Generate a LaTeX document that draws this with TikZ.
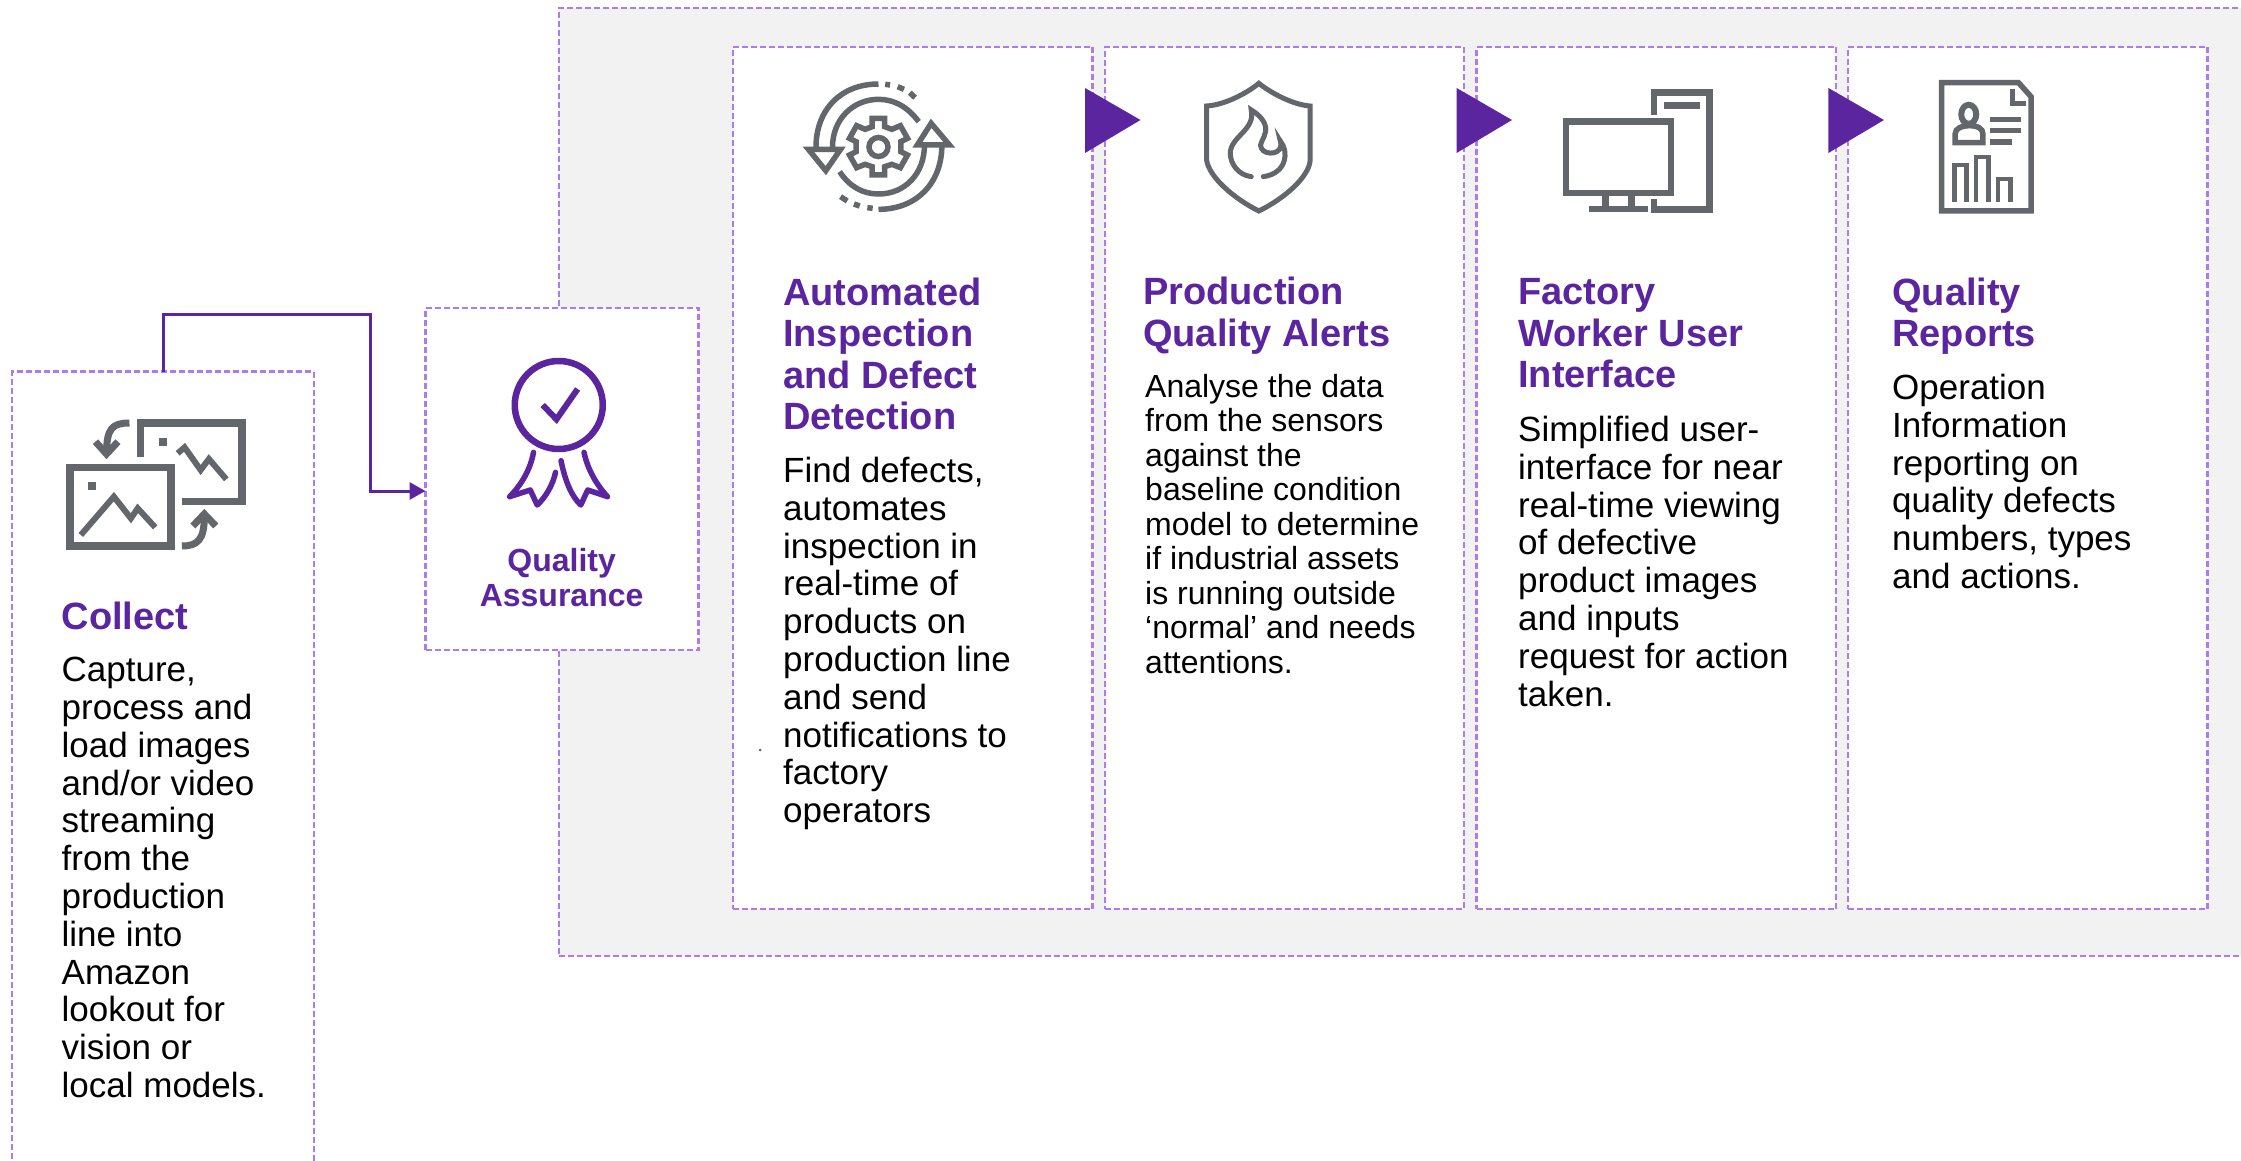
\documentclass[tikz,border=0pt]{standalone}
\usepackage{fontspec}
\setmainfont{Liberation Sans}
\usetikzlibrary{arrows.meta}
\definecolor{purp}{HTML}{5B259F}
\definecolor{dashc}{HTML}{AE7BEA}
\definecolor{panel}{HTML}{F2F2F2}
\definecolor{icon}{HTML}{63666A}
\tikzset{
  box/.style={draw=dashc,line width=2.4pt,dash pattern=on 6pt off 3pt,fill=white,anchor=north west,inner sep=0pt,outer sep=0pt},
  flow/.style={draw=purp,line width=3pt,-{Triangle[length=16pt,width=17pt]}},
  marker/.style={fill=purp,draw=none},
  head/.style={anchor=north west,inner sep=0pt,align=left,text=purp,font=\bfseries\fontsize{38}{41.5}\selectfont},
  bodytext/.style={anchor=north west,inner sep=0pt,align=left,text=black,font=\fontsize{35}{37.8}\selectfont},
  smalltext/.style={anchor=north west,inner sep=0pt,align=left,text=black,font=\fontsize{32}{34.5}\selectfont},
  qatext/.style={anchor=center,inner sep=0pt,align=center,text=purp,font=\bfseries\fontsize{32}{35}\selectfont},
  ic/.style={draw=icon,line width=#1,fill=none,line join=miter},
  ic/.default=7.5pt,
  icf/.style={fill=icon,draw=none},
  zoomA/.style={x=0.45914pt,y=-0.33333pt,shift={(0pt,-290pt)}},
  zoomB/.style={x=0.44643pt,y=-0.33333pt,shift={(720pt,-30pt)}},
  zoomC/.style={x=0.52360pt,y=-0.33333pt,shift={(1420pt,-30pt)}},
}
\begin{document}
\begin{tikzpicture}[x=1pt,y=-1pt]
\useasboundingbox (0,0) rectangle (2241,1161);
\clip (0,0) rectangle (2241,1161);
\fill[white] (0,0) rectangle (2241,1161);
% panel
\node[box,fill=panel,minimum width=1720pt,minimum height=948pt] (panelbox) at (559,8) {};
% boxes
\node[box,minimum width=302pt,minimum height=820pt] (collect) at (12,371.5) {};
\node[box,minimum width=273pt,minimum height=342pt] (qa) at (425.5,308) {};
\node[box,minimum width=359.5pt,minimum height=862pt] (card1) at (733,47) {};
\node[box,minimum width=359pt,minimum height=862pt] (card2) at (1105,47) {};
\node[box,minimum width=359.5pt,minimum height=862pt] (card3) at (1476.5,47) {};
\node[box,minimum width=359.5pt,minimum height=862pt] (card4) at (1848,47) {};
% connector
\coordinate (qain) at (425.5,491);
\draw[flow] (collect.north) -- (163,314) -- (370,314) -- (370,491) -- (qain);
% markers
\fill[marker] (1085,88) -- (1140.5,120) -- (1085,153) -- cycle;
\fill[marker] (1456.6,88) -- (1512,120) -- (1456.6,153) -- cycle;
\fill[marker] (1828.4,88) -- (1884,120) -- (1828.4,153) -- cycle;
% texts
\node[head] (tcollecth) at (61.5,602) {Collect};
\node[bodytext] (tcollect) at (61.5,657) {Capture,\\process and\\load images\\and/or video\\streaming\\from the\\production\\line into\\Amazon\\lookout for\\vision or\\local models.};
\node[qatext] (tqa) at (561.6,578) {Quality\\Assurance};
\node[head] (t1h) at (783,277.5) {Automated\\Inspection\\and Defect\\Detection};
\node[bodytext] (t1) at (783,457) {Find defects,\\automates\\inspection in\\real-time of\\products on\\production line\\and send\\notifications to\\factory\\operators};
\node[head] (t2h) at (1143,277) {Production\\Quality Alerts};
\node[smalltext] (t2) at (1145,374) {Analyse the data\\from the sensors\\against the\\baseline condition\\model to determine\\if industrial assets\\is running outside\\‘normal’ and needs\\attentions.};
\node[head] (t3h) at (1518,278.5) {Factory\\Worker User\\Interface};
\node[bodytext] (t3) at (1518,416) {Simplified user-\\interface for near\\real-time viewing\\of defective\\product images\\and inputs\\request for action\\taken.};
\node[head] (t4h) at (1892,277.5) {Quality\\Reports};
\node[bodytext] (t4) at (1892,374) {Operation\\Information\\reporting on\\quality defects\\numbers, types\\and actions.};
\fill[icon] (760,750) circle (1.5pt);
% collect icon
\begin{scope}[zoomA]
\draw[ic] (306,500) -- (306,399) -- (527,399) -- (527,634) -- (396,634);
\fill[icf] (346,444) rectangle (364,468);
\draw[ic=6pt] (387,490) -- (402,472) -- (437,540) -- (455,507) -- (493,568);
\draw[ic] (152,533) rectangle (372,768);
\fill[icf] (192,576) rectangle (209,600);
\draw[ic=6pt] (176,735) -- (248,620) -- (285,685) -- (300,655) -- (338,712);
\draw[ic=7pt] (282,399) .. controls (245,399) and (232,415) .. (232,490);
\draw[ic=7pt] (208,455) -- (232,492) -- (257,455);
\draw[ic=7pt] (396,768) .. controls (430,768) and (445,750) .. (445,680);
\draw[ic=7pt] (420,708) -- (445,672) -- (470,708);
% QA icon
\begin{scope}[line cap=round,line join=round]
\draw[draw=purp,line width=6.5pt] (1217,345) circle [radius=44pt];
\draw[draw=purp,line width=6pt,line cap=butt,line join=miter] (1182,345) -- (1212,388) -- (1258,297);
\draw[draw=purp,line width=5.5pt] (1162,487) .. controls (1155,540) and (1135,585) .. (1110,620) -- (1155,600) -- (1170,645) .. controls (1190,620) and (1205,580) .. (1210,547);
\draw[draw=purp,line width=5.5pt] (1222,512) .. controls (1230,570) and (1245,620) .. (1265,645) -- (1280,600) -- (1323,620) .. controls (1300,585) and (1280,540) .. (1272,487);
\end{scope}
\end{scope}
% cycle icon & shield
\begin{scope}[zoomB]
\draw[ic=5.5pt] (355,162) .. controls (270,162) and (215,240) .. (215,352);
\draw[ic=5.5pt] (370,163) -- (381,165) (398,170) -- (412,178) (425,188) -- (437,203);
\draw[ic=5.5pt] (445,275) .. controls (420,230) and (390,208) .. (355,208) .. controls (300,208) and (252,265) .. (252,352);
\draw[ic=5.5pt] (198,358) -- (270,358) -- (237,422) -- cycle;
\draw[ic=5.5pt] (268,425) .. controls (290,470) and (320,492) .. (355,492) .. controls (415,492) and (458,430) .. (458,345);
\draw[ic=5.5pt] (355,538) .. controls (440,538) and (497,460) .. (497,345);
\draw[ic=5.5pt] (442,345) -- (514,345) -- (473,280) -- cycle;
\draw[ic=5.5pt] (342,535) -- (330,533) (313,528) -- (300,522) (285,513) -- (270,500);
\draw[ic=5.5pt] (341,265) -- (369,265) -- (369,290) -- (385,298) -- (404,287) -- (420,325) -- (405,335) -- (405,365) -- (420,375) -- (404,413) -- (385,403) -- (369,410) -- (369,435) -- (341,435) -- (341,410) -- (325,403) -- (306,413) -- (290,375) -- (305,365) -- (305,335) -- (290,325) -- (306,287) -- (325,298) -- (341,290) -- cycle;
\draw[ic=5.5pt] (355,351) circle [radius=9.5pt];
\begin{scope}[line cap=round,line join=round]
\draw[ic=5pt] (1207,160) .. controls (1180,190) and (1130,225) .. (1090,228) -- (1090,390) .. controls (1095,440) and (1150,505) .. (1207,543) .. controls (1265,505) and (1320,440) .. (1322,390) -- (1322,228) .. controls (1285,225) and (1235,190) .. (1207,160) -- cycle;
\draw[ic=5pt] (1190,440) .. controls (1160,435) and (1143,400) .. (1143,370) .. controls (1143,320) and (1200,300) .. (1190,240) .. controls (1215,260) and (1225,285) .. (1222,305) .. controls (1220,325) and (1205,345) .. (1213,355) .. controls (1220,378) and (1265,375) .. (1255,333) .. controls (1275,365) and (1270,430) .. (1217,440);
\end{scope}
\end{scope}
% monitor and report
\begin{scope}[zoomC]
\draw[ic=6.5pt] (279,274) rectangle (479,489);
\fill[icf] (348,498) rectangle (360,530);
\fill[icf] (398,498) rectangle (410,530);
\fill[icf] (323,528) rectangle (435,547);
\draw[ic=6.5pt] (447,256) -- (447,187) -- (553,187) -- (553,538) -- (447,538) -- (447,508);
\fill[icf] (466,217) rectangle (535,236);
\draw[ic=5.5pt] (996,158) -- (1143,158) -- (1167,200) -- (1167,543) -- (996,543) -- cycle;
\draw[ic=5pt] (1131,178) -- (1131,222) -- (1157,222);
\draw[ic=6pt] (1048,253) ellipse [x radius=7.5pt,y radius=9.5pt];
\draw[ic=5.5pt] (1022,338) -- (1022,312) .. controls (1022,295) and (1035,287) .. (1048,287) .. controls (1065,287) and (1075,295) .. (1075,312) -- (1075,338) -- cycle;
\fill[icf] (1089,261) rectangle (1147,277);
\fill[icf] (1089,294) rectangle (1147,310);
\fill[icf] (1089,327) rectangle (1131,345);
\draw[ic=4.8pt] (1021,516) -- (1021,405) -- (1044,405) -- (1044,516);
\draw[ic=4.8pt] (1062,516) -- (1062,381) -- (1085,381) -- (1085,516);
\draw[ic=4.8pt] (1104,516) -- (1104,447) -- (1127,447) -- (1127,516);
\end{scope}
\end{tikzpicture}
\end{document}
